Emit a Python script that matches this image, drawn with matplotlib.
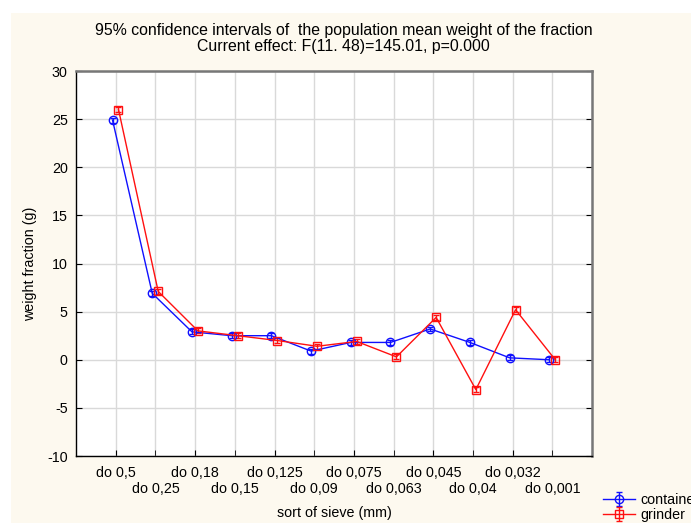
import numpy as np
import matplotlib
matplotlib.use("Agg")
from matplotlib import pyplot as plt
from matplotlib.patches import Rectangle

plt.rcParams['font.family'] = ['Liberation Sans', 'DejaVu Sans']
plt.rcParams['axes.unicode_minus'] = False

# sieve fractions and mean weights (g)
sitka = ['do 0,5', 'do 0,25', 'do 0,18', 'do 0,15', 'do 0,125', 'do 0,09',
         'do 0,075', 'do 0,063', 'do 0,045', 'do 0,04', 'do 0,032', 'do 0,001']
container = [24.9, 6.9, 2.9, 2.5, 2.5, 0.9, 1.8, 1.8, 3.2, 1.8, 0.2, 0.0]
grinder = [26.0, 7.1, 3.0, 2.5, 2.0, 1.4, 1.9, 0.3, 4.4, -3.1, 5.2, 0.0]
ci_container = [0.25] * 12
ci_grinder = [0.25] * 12

fig = plt.figure(figsize=(6.91, 5.23), dpi=100)
fig.patch.set_facecolor('white')
fig.patches.append(Rectangle((11 / 691, 0), 1, 1 - 13 / 523, transform=fig.transFigure,
                             facecolor='#fdf9ef', edgecolor='none', zorder=-10))

ax = fig.add_axes([0.110, 0.1281, 0.747, 0.7361])
ax.set_facecolor('white')

x = np.arange(len(sitka))
e1 = ax.errorbar(x - 0.08, container, yerr=ci_container, color='#1010ff', lw=1,
                 marker='o', ms=6, mfc='none', mew=1, elinewidth=1, capsize=2,
                 label='container', zorder=3)
e2 = ax.errorbar(x + 0.07, grinder, yerr=ci_grinder, color='#ff1010', lw=1,
                 marker='s', ms=6, mfc='none', mew=1, elinewidth=1, capsize=2,
                 label='grinder', zorder=3)

ax.set_xlim(-1, 12)
ax.set_ylim(-10, 30)
ax.set_yticks(np.arange(-10, 31, 5))
# alternating two-row tick labels: even on major ticks, odd on minor ticks
ax.set_xticks(x[::2])
ax.set_xticklabels(sitka[::2])
ax.set_xticks(x[1::2], minor=True)
ax.set_xticklabels(sitka[1::2], minor=True)
ax.grid(True, which='both', axis='x', color='#d9d9d9', lw=1)
ax.grid(True, axis='y', color='#d9d9d9', lw=1)
ax.set_axisbelow(True)
ax.tick_params(which='both', direction='in', length=4, labelsize=10.3, right=True, top=False)
ax.tick_params(axis='x', which='major', pad=7)
ax.tick_params(axis='x', which='minor', pad=19)
ax.tick_params(axis='y', pad=6)
for s in ['left', 'bottom']:
    ax.spines[s].set_color('black')
    ax.spines[s].set_linewidth(1)
for s in ['top', 'right']:
    ax.spines[s].set_color('#777777')
    ax.spines[s].set_linewidth(1.8)

ax.set_xlabel('sort of sieve (mm)', fontsize=10.3, labelpad=7)
ax.set_ylabel('weight fraction (g)', fontsize=10.3, labelpad=7)

fig.text(0.497, 1 - 31 / 523, '95% confidence intervals of  the population mean weight of the fraction',
         ha='center', va='center', fontsize=11.4)
fig.text(0.497, 1 - 47 / 523, 'Current effect: F(11. 48)=145.01, p=0.000',
         ha='center', va='center', fontsize=11.4)

fig.legend(handles=[e1, e2], loc='upper left', bbox_to_anchor=(596 / 691, 1 - 486 / 523),
           frameon=False, fontsize=10.3, handlelength=2.2, handletextpad=0.4,
           labelspacing=0.05, borderpad=0)

fig.savefig('out.png', dpi=100)
